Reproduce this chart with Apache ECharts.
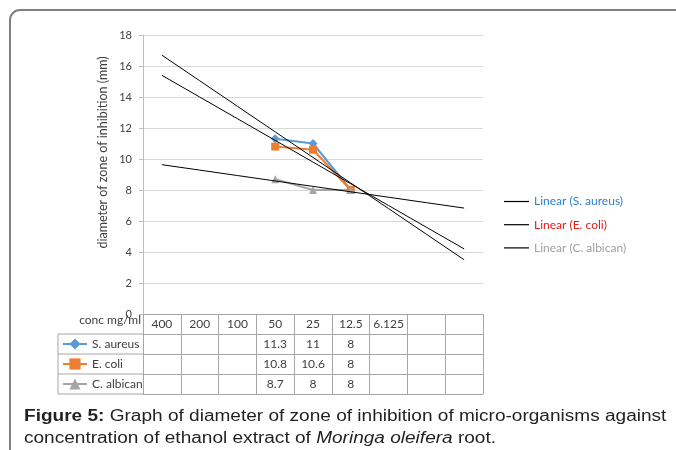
<!DOCTYPE html>
<html>
<head>
<meta charset="utf-8">
<script src="https://cdn.jsdelivr.net/npm/echarts@6/dist/echarts.min.js"></script>
<style>
  html, body { margin: 0; padding: 0; background: #ffffff; }
  #chart { width: 676px; height: 450px; }
</style>
</head>
<body>
<div id="chart"></div>
<script>
// ---- data ----
const categories = ['400', '200', '100', '50', '25', '12.5', '6.125', '', ' '];
const sAureus   = [null, null, null, 11.3, 11,   8, null, null, null];
const eColi     = [null, null, null, 10.8, 10.6, 8, null, null, null];
const cAlbican  = [null, null, null, 8.7,  8,    8, null, null, null];
const seriesNames = ['S. aureus', 'E. coli', 'C. albican'];
const trendNames = ['Linear (S. aureus)', 'Linear (E. coli)', 'Linear (C. albican)'];
const yTicks = { min: 0, max: 18, interval: 2 };
const yAxisTitle = 'diameter of zone of inhibition (mm)';
const xAxisTitle = 'conc mg/ml';
const captionBold = 'Figure 5:';
const captionLine1 = ' Graph of diameter of zone of inhibition of micro-organisms against';
const captionLine2a = 'concentration of ethanol extract of ';
const captionItalic = 'Moringa oleifera';
const captionLine2b = ' root.';

// ---- style ----
const FONT = 'Lato';
const TXT = '#404040';
const GRIDC = '#d9d9d9';
const TABLEC = '#a6a6a6';
const colors = ['#5B9BD5', '#ED7D31', '#A5A5A5'];
const legendTextColors = ['#2E7FD0', '#E0201B', '#A0A0A0'];

// layout
const G = { left: 143, right: 193, top: 35, bottom: 136 };
const ROW = 20;

// least-squares linear trendline over the category index (Excel style)
function trend(vals) {
  const pts = [];
  vals.forEach((v, i) => { if (v != null) pts.push([i + 1, v]); });
  const n = pts.length;
  const mx = pts.reduce((s, p) => s + p[0], 0) / n;
  const my = pts.reduce((s, p) => s + p[1], 0) / n;
  let sxy = 0, sxx = 0;
  pts.forEach(p => { sxy += (p[0] - mx) * (p[1] - my); sxx += (p[0] - mx) * (p[0] - mx); });
  const b = sxy / sxx, a = my - b * mx;
  return vals.map((_, i) => +(a + b * (i + 1)).toFixed(4));
}

function rowAxis(k, row) {
  return {
    type: 'category', data: categories, position: 'bottom', offset: ROW * k,
    boundaryGap: true,
    axisLine: { show: true, lineStyle: { color: TABLEC, width: 1 } },
    axisTick: { show: false },
    splitLine: { show: false },
    axisLabel: {
      show: !!row, interval: 0, margin: 4, fontSize: 12, fontFamily: FONT, color: TXT,
      formatter: (v, idx) => (row && row[idx] != null) ? String(row[idx]) : ''
    }
  };
}

const chart = echarts.init(document.getElementById('chart'), null, { renderer: 'canvas' });

const plotBottom = 450 - G.bottom;
const tableLeft = 58;
const lineIcon = 'path://M0,0H25V1.2H0Z';

const option = {
  backgroundColor: '#ffffff',
  animation: false,
  grid: G,
  legend: [
    {
      data: trendNames.map((n, i) => ({ name: n, icon: lineIcon, textStyle: { color: legendTextColors[i] } })),
      orient: 'vertical', left: 504, top: 194.5, padding: 0,
      itemWidth: 25, itemHeight: 14, itemGap: 9.2,
      textStyle: { fontFamily: FONT, fontSize: 12, lineHeight: 14 },
      selectedMode: false
    },
    {
      data: seriesNames,
      orient: 'vertical', left: 62, top: plotBottom + ROW + 3, padding: 0,
      itemWidth: 24, itemHeight: 14, itemGap: 6,
      textStyle: { fontFamily: FONT, fontSize: 12, lineHeight: 14, color: TXT },
      selectedMode: false
    }
  ],
  xAxis: [
    {
      type: 'category', data: categories, position: 'bottom', boundaryGap: true,
      name: xAxisTitle, nameLocation: 'start', nameGap: 2, nameMoveOverlap: false,
      nameTextStyle: { fontFamily: FONT, fontSize: 12, color: TXT, align: 'right', verticalAlign: 'top' },
      axisLine: { show: true, lineStyle: { color: TABLEC, width: 1 } },
      axisTick: { show: true, interval: 0, length: ROW * 4, lineStyle: { color: TABLEC, width: 1 } },
      splitLine: { show: false },
      axisLabel: { interval: 0, margin: 4, fontSize: 12, fontFamily: FONT, color: TXT }
    },
    rowAxis(1, sAureus),
    rowAxis(2, eColi),
    rowAxis(3, cAlbican),
    rowAxis(4, null)
  ],
  yAxis: {
    type: 'value', min: yTicks.min, max: yTicks.max, interval: yTicks.interval,
    name: yAxisTitle, nameLocation: 'middle', nameGap: 34, nameRotate: 90, nameMoveOverlap: false,
    nameTextStyle: { fontFamily: FONT, fontSize: 12.5, color: TXT, padding: [0, 0, 0, 44] },
    axisLine: { show: true, lineStyle: { color: '#bfbfbf', width: 1 } },
    axisTick: { show: true, length: 4, lineStyle: { color: '#bfbfbf' } },
    splitLine: { show: true, lineStyle: { color: GRIDC, width: 1 } },
    axisLabel: { margin: 11, fontSize: 11, fontFamily: FONT, color: TXT }
  },
  series: [
    { name: seriesNames[0], type: 'line', data: sAureus, symbol: 'diamond', symbolSize: 9,
      color: colors[0], lineStyle: { width: 2 }, z: 2 },
    { name: seriesNames[1], type: 'line', data: eColi, symbol: 'rect', symbolSize: 8,
      color: colors[1], lineStyle: { width: 2 }, z: 2 },
    { name: seriesNames[2], type: 'line', data: cAlbican, symbol: 'triangle', symbolSize: 8,
      color: colors[2], lineStyle: { width: 2 }, z: 2 },
    { name: trendNames[0], type: 'line', data: trend(sAureus), symbol: 'none',
      color: '#000000', lineStyle: { width: 1, color: '#000000' }, z: 3 },
    { name: trendNames[1], type: 'line', data: trend(eColi), symbol: 'none',
      color: '#000000', lineStyle: { width: 1, color: '#000000' }, z: 3 },
    { name: trendNames[2], type: 'line', data: trend(cAlbican), symbol: 'none',
      color: '#000000', lineStyle: { width: 1, color: '#000000' }, z: 3 }
  ],
  graphic: [
    // outer frame (left and top edges visible)
    { type: 'rect', shape: { x: 10, y: 10, width: 900, height: 700, r: [10, 0, 0, 0] },
      style: { fill: 'none', stroke: '#7f7f7f', lineWidth: 2 }, silent: true },
    // table legend column borders
    { type: 'line', shape: { x1: tableLeft, y1: plotBottom + ROW, x2: tableLeft, y2: plotBottom + ROW * 4 },
      style: { stroke: TABLEC, lineWidth: 1 }, silent: true },
    ...[1, 2, 3, 4].map(k => ({ type: 'line',
      shape: { x1: tableLeft, y1: plotBottom + ROW * k, x2: G.left, y2: plotBottom + ROW * k },
      style: { stroke: TABLEC, lineWidth: 1 }, silent: true })),
    // figure caption
    { type: 'text', x: 24, y: 406, scaleX: 1.19, silent: true,
      style: {
        x: 0, y: 0,
        text: '{b|' + captionBold + '}' + captionLine1 + '\n' + captionLine2a + '{i|' + captionItalic + '}' + captionLine2b,
        fontFamily: 'Liberation Sans', fontSize: 16, lineHeight: 22, fill: '#231f20',
        verticalAlign: 'top', align: 'left',
        rich: {
          b: { fontFamily: 'Liberation Sans', fontSize: 16, fontWeight: 'bold', fill: '#231f20', lineHeight: 22 },
          i: { fontFamily: 'Liberation Sans', fontSize: 16, fontStyle: 'italic', fill: '#231f20', lineHeight: 22 }
        }
      } }
  ]
};

chart.setOption(option);
</script>
</body>
</html>
